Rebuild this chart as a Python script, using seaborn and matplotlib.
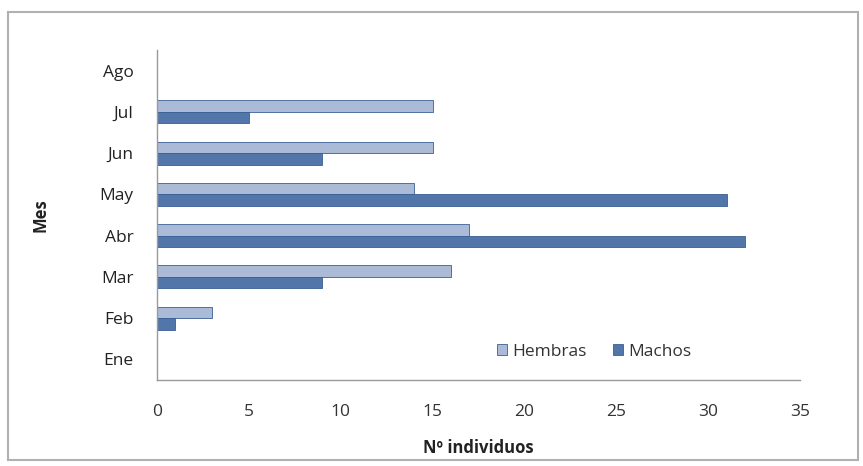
import matplotlib
matplotlib.use("Agg")
import matplotlib.pyplot as plt
import seaborn as sns
import pandas as pd
from matplotlib.patches import Rectangle

# Monthly counts of individuals by sex
meses = ["Ago", "Jul", "Jun", "May", "Abr", "Mar", "Feb", "Ene"]
hembras = [0, 15, 15, 14, 17, 16, 3, 0]
machos = [0, 5, 9, 31, 32, 9, 1, 0]
sexos = ["Hembras", "Machos"]
colores = {"Hembras": "#a4b8de", "Machos": "#4474b8"}

df = pd.DataFrame({
    "Mes": meses * 2,
    "Sexo": ["Hembras"] * len(meses) + ["Machos"] * len(meses),
    "N": hembras + machos,
})

sns.set_theme(style="white")
plt.rcParams["font.family"] = ["Open Sans", "DejaVu Sans"]

fig = plt.figure(figsize=(8.63, 4.66), dpi=100)
ax = fig.add_axes([157 / 863, 1 - 380 / 466, (800 - 157) / 863, 330 / 466])

sns.barplot(data=df, x="N", y="Mes", hue="Sexo", order=meses, hue_order=sexos,
            palette=colores, width=0.56, orient="h", ax=ax,
            edgecolor="#3a5f94", linewidth=0.6, legend=True)

ax.set_xlim(0, 35)
ax.set_xticks(range(0, 36, 5))
ax.set_xlabel("Nº individuos", fontsize=12, fontweight="bold", color="#222222", labelpad=14)
ax.set_ylabel("Mes", fontsize=12, fontweight="bold", color="#222222", labelpad=36)
ax.tick_params(axis="both", labelsize=12.5, length=3, width=0.8)
ax.tick_params(axis="x", colors="#999999", labelcolor="#333333", pad=14)
ax.tick_params(axis="y", colors="#999999", labelcolor="#222222", pad=14)

for side in ["top", "right"]:
    ax.spines[side].set_visible(False)
for side in ["left", "bottom"]:
    ax.spines[side].set_color("#9a9a9a")
    ax.spines[side].set_linewidth(1.0)

leg = ax.legend(loc="center", bbox_to_anchor=(0.68, 0.085), ncol=2, frameon=False,
                fontsize=12.5, handlelength=0.6, handleheight=0.6, columnspacing=1.5,
                handletextpad=0.3)
for t in leg.get_texts():
    t.set_color("#333333")

# Outer chart frame
fig.patches.append(Rectangle((8 / 863, 1 - 460 / 466), 850 / 863, 448 / 466,
                             transform=fig.transFigure, fill=False,
                             edgecolor="#b0b0b0", linewidth=1.5))

fig.savefig("out.png", dpi=100)
